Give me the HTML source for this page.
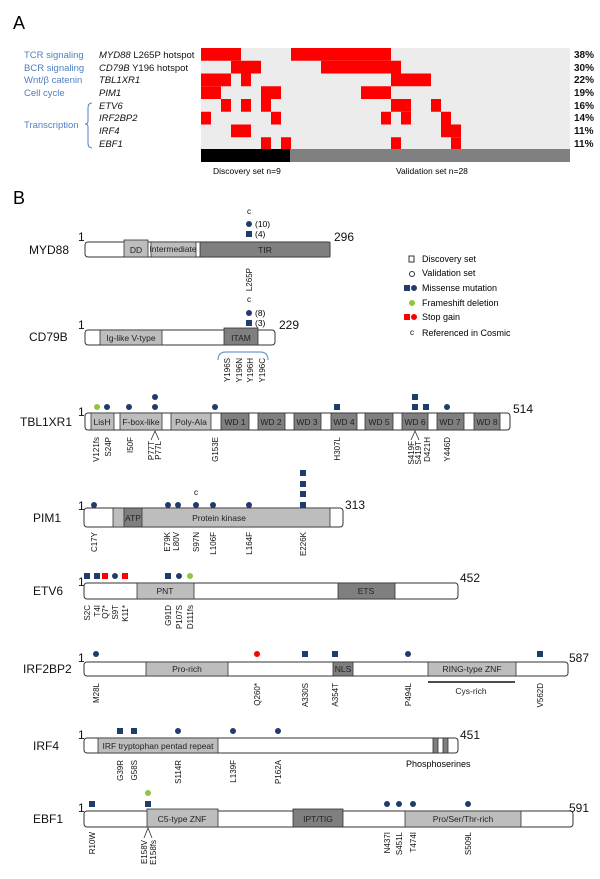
<!DOCTYPE html>
<html><head><meta charset="utf-8"><style>
html,body{margin:0;padding:0;background:#fff}
svg{display:block;font-family:"Liberation Sans",Arial,sans-serif}
.bl{fill:#4f7fc0;font-size:9.5px}
.g{font-size:9.5px;fill:#111}
.pct{font-size:10px;font-weight:bold;fill:#111}
.pn{font-size:12px;fill:#111}
.num{font-size:12px;fill:#111}
.dm{font-size:8.5px;fill:#222;text-anchor:middle}
.rl{font-size:8px;fill:#111;text-anchor:end}
.bar{fill:#fff;stroke:#333;stroke-width:1}
.lg{fill:#bdbdbd;stroke:#333;stroke-width:.8}
.dk{fill:#7f7f7f;stroke:#333;stroke-width:.8}
.nv{fill:#1f3d6b}
</style></head><body>
<svg width="600" height="879" viewBox="0 0 600 879" xmlns="http://www.w3.org/2000/svg">
<text x="13" y="29" font-size="18">A</text>
<text x="24" y="58" class="bl">TCR signaling</text>
<text x="24" y="71" class="bl">BCR signaling</text>
<text x="24" y="83" class="bl">Wnt/β catenin</text>
<text x="24" y="96" class="bl">Cell cycle</text>
<text x="24" y="128" class="bl">Transcription</text>
<path d="M92,103 Q88,103 88,108 L88,121 Q88,124 85,124 Q88,124 88,127 L88,143 Q88,148 92,148" fill="none" stroke="#4f7fc0" stroke-width="1"/>
<text x="99" y="58" class="g"><tspan font-style="italic">MYD88</tspan> L265P hotspot</text>
<text x="99" y="71" class="g"><tspan font-style="italic">CD79B</tspan> Y196 hotspot</text>
<g class="g" font-style="italic">
<text x="99" y="83">TBL1XR1</text><text x="99" y="96">PIM1</text><text x="99" y="109">ETV6</text>
<text x="99" y="121">IRF2BP2</text><text x="99" y="134">IRF4</text><text x="99" y="147">EBF1</text></g>
<rect x="201" y="48" width="369" height="101" fill="#ececec"/>
<g fill="#f00">
<rect x="201" y="48" width="40" height="12.75"/><rect x="291" y="48" width="100" height="12.75"/>
<rect x="231" y="60.75" width="30" height="12.75"/><rect x="321" y="60.75" width="80" height="12.75"/>
<rect x="201" y="73.5" width="30" height="12.75"/><rect x="241" y="73.5" width="10" height="12.75"/><rect x="391" y="73.5" width="40" height="12.75"/>
<rect x="201" y="86.25" width="20" height="12.75"/><rect x="261" y="86.25" width="20" height="12.75"/><rect x="361" y="86.25" width="30" height="12.75"/>
<rect x="221" y="99" width="10" height="12.75"/><rect x="241" y="99" width="10" height="12.75"/><rect x="261" y="99" width="10" height="12.75"/><rect x="391" y="99" width="20" height="12.75"/><rect x="431" y="99" width="10" height="12.75"/>
<rect x="201" y="111.75" width="10" height="12.75"/><rect x="271" y="111.75" width="10" height="12.75"/><rect x="381" y="111.75" width="10" height="12.75"/><rect x="401" y="111.75" width="10" height="12.75"/><rect x="441" y="111.75" width="10" height="12.75"/>
<rect x="231" y="124.5" width="20" height="12.75"/><rect x="441" y="124.5" width="20" height="12.75"/>
<rect x="261" y="137.25" width="10" height="12" /><rect x="281" y="137.25" width="10" height="12"/><rect x="391" y="137.25" width="10" height="12"/><rect x="451" y="137.25" width="10" height="12"/>
</g>
<rect x="201" y="149" width="89" height="13" fill="#000"/>
<rect x="290" y="149" width="280" height="13" fill="#808080"/>
<g class="pct"><text x="574" y="58">38%</text><text x="574" y="71">30%</text><text x="574" y="83">22%</text><text x="574" y="96">19%</text><text x="574" y="109">16%</text><text x="574" y="121">14%</text><text x="574" y="134">11%</text><text x="574" y="147">11%</text></g>
<text x="213" y="174" font-size="8.5">Discovery set n=9</text>
<text x="396" y="174" font-size="8.5">Validation set n=28</text>

<text x="13" y="204" font-size="18">B</text>
<!-- MYD88 -->
<text x="29" y="254" class="pn">MYD88</text>
<text x="78" y="241" class="num">1</text><text x="334" y="241" class="num">296</text>
<rect x="85" y="242" width="245" height="15" rx="3" class="bar"/>
<rect x="124" y="240" width="24" height="17" class="lg"/><rect x="151" y="242" width="45" height="15" class="lg"/><rect x="200" y="242" width="130" height="15" class="dk"/>
<text x="136" y="253" class="dm">DD</text><text x="173" y="252" class="dm" font-size="7">Intermediate</text><text x="265" y="253" class="dm">TIR</text>
<text x="249" y="214" font-size="8" text-anchor="middle">c</text>
<circle cx="249" cy="224" r="3" class="nv"/><rect x="246" y="231" width="6" height="6" class="nv"/>
<text x="255" y="227" font-size="8.5">(10)</text><text x="255" y="237" font-size="8.5">(4)</text>
<text transform="translate(249,268) rotate(-90)" dy="3" class="rl">L265P</text>
<!-- legend -->
<rect x="409" y="256" width="5" height="6" fill="#fff" stroke="#333"/><text x="422" y="262" font-size="9">Discovery set</text>
<circle cx="412" cy="274" r="2.5" fill="#fff" stroke="#333"/><text x="422" y="276" font-size="9">Validation set</text>
<rect x="404" y="285" width="6" height="6" class="nv"/><circle cx="414" cy="288" r="3" class="nv"/><text x="422" y="291" font-size="9">Missense mutation</text>
<circle cx="412" cy="303" r="3" fill="#8dc63f"/><text x="422" y="306" font-size="9">Frameshift deletion</text>
<rect x="404" y="314" width="6" height="6" fill="#f00"/><circle cx="414" cy="317" r="3" fill="#f00"/><text x="422" y="320" font-size="9">Stop gain</text>
<text x="412" y="335" font-size="8" text-anchor="middle">c</text><text x="422" y="336" font-size="9">Referenced in Cosmic</text>
<!-- CD79B -->
<text x="29" y="341" class="pn">CD79B</text>
<text x="78" y="329" class="num">1</text><text x="279" y="329" class="num">229</text>
<rect x="85" y="330" width="190" height="15" rx="3" class="bar"/>
<rect x="100" y="330" width="62" height="15" class="lg"/><rect x="224" y="328" width="34" height="17" class="dk"/>
<text x="131" y="341" class="dm">Ig-like V-type</text><text x="241" y="341" class="dm">ITAM</text>
<text x="249" y="302" font-size="8" text-anchor="middle">c</text>
<circle cx="249" cy="313" r="3" class="nv"/><rect x="246" y="320" width="6" height="6" class="nv"/>
<text x="255" y="316" font-size="8.5">(8)</text><text x="255" y="326" font-size="8.5">(3)</text>
<path d="M218,360 Q218,352 226,352 L260,352 Q268,352 268,360" fill="none" stroke="#6f9ad0" stroke-width="1.2"/>
<text transform="translate(227,358) rotate(-90)" dy="3" class="rl">Y196S</text>
<text transform="translate(239,358) rotate(-90)" dy="3" class="rl">Y196N</text>
<text transform="translate(250,358) rotate(-90)" dy="3" class="rl">Y196H</text>
<text transform="translate(262,358) rotate(-90)" dy="3" class="rl">Y196C</text>
<!-- TBL1XR1 -->
<text x="20" y="426" class="pn">TBL1XR1</text>
<text x="78" y="416" class="num">1</text><text x="513" y="413" class="num">514</text>
<rect x="85" y="413" width="425" height="17" rx="3" class="bar"/>
<rect x="91" y="413" width="23" height="17" class="lg"/><rect x="120" y="413" width="42" height="17" class="lg"/><rect x="171" y="413" width="40" height="17" class="lg"/>
<g class="dk"><rect x="221" y="413" width="28" height="17"/><rect x="258" y="413" width="27" height="17"/><rect x="294" y="413" width="27" height="17"/><rect x="331" y="413" width="26" height="17"/><rect x="365" y="413" width="28" height="17"/><rect x="402" y="413" width="26" height="17"/><rect x="437" y="413" width="27" height="17"/><rect x="474" y="413" width="26" height="17"/></g>
<g class="dm"><text x="102" y="425">LisH</text><text x="141" y="425">F-box-like</text><text x="191" y="425">Poly-Ala</text>
<text x="235" y="425">WD 1</text><text x="271" y="425">WD 2</text><text x="307" y="425">WD 3</text><text x="344" y="425">WD 4</text><text x="379" y="425">WD 5</text><text x="415" y="425">WD 6</text><text x="450" y="425">WD 7</text><text x="487" y="425">WD 8</text></g>
<circle cx="97" cy="407" r="3" fill="#8dc63f"/>
<g class="nv"><circle cx="107" cy="407" r="3"/><circle cx="129" cy="407" r="3"/><circle cx="155" cy="407" r="3"/><circle cx="155" cy="397" r="3"/><circle cx="215" cy="407" r="3"/>
<rect x="334" y="404" width="6" height="6"/><rect x="412" y="404" width="6" height="6"/><rect x="412" y="394" width="6" height="6"/><rect x="423" y="404" width="6" height="6"/><circle cx="447" cy="407" r="3"/></g>
<path d="M151,440 L155,431 L159,440 M411,440 L415,431 L419,440" fill="none" stroke="#333" stroke-width=".8"/>
<text transform="translate(96,437) rotate(-90)" dy="3" class="rl">V121fs</text>
<text transform="translate(108,437) rotate(-90)" dy="3" class="rl">S24P</text>
<text transform="translate(130,437) rotate(-90)" dy="3" class="rl">I50F</text>
<text transform="translate(151,441) rotate(-90)" dy="3" class="rl">P77T</text>
<text transform="translate(158,441) rotate(-90)" dy="3" class="rl">P77L</text>
<text transform="translate(215,437) rotate(-90)" dy="3" class="rl">G153E</text>
<text transform="translate(337,437) rotate(-90)" dy="3" class="rl">H307L</text>
<text transform="translate(411,441) rotate(-90)" dy="3" class="rl">S419F</text>
<text transform="translate(418,441) rotate(-90)" dy="3" class="rl">S419T</text>
<text transform="translate(427,437) rotate(-90)" dy="3" class="rl">D421H</text>
<text transform="translate(447,437) rotate(-90)" dy="3" class="rl">Y446D</text>
<!-- PIM1 -->
<text x="33" y="522" class="pn">PIM1</text>
<text x="78" y="510" class="num">1</text><text x="345" y="509" class="num">313</text>
<rect x="84" y="508" width="259" height="19" rx="3" class="bar"/>
<rect x="113" y="508" width="217" height="19" class="lg"/><rect x="124" y="508" width="18" height="19" class="dk"/>
<text x="133" y="521" class="dm">ATP</text><text x="219" y="521" class="dm">Protein kinase</text>
<text x="196" y="495" font-size="8" text-anchor="middle">c</text>
<g class="nv"><circle cx="94" cy="505" r="3"/><circle cx="168" cy="505" r="3"/><circle cx="178" cy="505" r="3"/><circle cx="196" cy="505" r="3"/><circle cx="213" cy="505" r="3"/><circle cx="249" cy="505" r="3"/>
<rect x="300" y="502" width="6" height="6"/><rect x="300" y="491" width="6" height="6"/><rect x="300" y="481" width="6" height="6"/><rect x="300" y="470" width="6" height="6"/></g>
<text transform="translate(94,532) rotate(-90)" dy="3" class="rl">C17Y</text>
<text transform="translate(167,532) rotate(-90)" dy="3" class="rl">E79K</text>
<text transform="translate(176,532) rotate(-90)" dy="3" class="rl">L80V</text>
<text transform="translate(196,532) rotate(-90)" dy="3" class="rl">S97N</text>
<text transform="translate(213,532) rotate(-90)" dy="3" class="rl">L106F</text>
<text transform="translate(249,532) rotate(-90)" dy="3" class="rl">L164F</text>
<text transform="translate(303,532) rotate(-90)" dy="3" class="rl">E226K</text>
<!-- ETV6 -->
<text x="33" y="595" class="pn">ETV6</text>
<text x="78" y="586" class="num">1</text><text x="460" y="582" class="num">452</text>
<rect x="84" y="583" width="374" height="16" rx="3" class="bar"/>
<rect x="137" y="583" width="57" height="16" class="lg"/><rect x="338" y="583" width="57" height="16" class="dk"/>
<text x="165" y="594" class="dm">PNT</text><text x="366" y="594" class="dm">ETS</text>
<g class="nv"><rect x="84" y="573" width="6" height="6"/><rect x="94" y="573" width="6" height="6"/><circle cx="115" cy="576" r="3"/><rect x="165" y="573" width="6" height="6"/><circle cx="179" cy="576" r="3"/></g>
<rect x="102" y="573" width="6" height="6" fill="#f00"/><rect x="122" y="573" width="6" height="6" fill="#f00"/>
<circle cx="190" cy="576" r="3" fill="#8dc63f"/>
<text transform="translate(87,605) rotate(-90)" dy="3" class="rl">S2C</text>
<text transform="translate(97,605) rotate(-90)" dy="3" class="rl">T4I</text>
<text transform="translate(105,605) rotate(-90)" dy="3" class="rl">Q7*</text>
<text transform="translate(115,605) rotate(-90)" dy="3" class="rl">S9T</text>
<text transform="translate(125,605) rotate(-90)" dy="3" class="rl">K11*</text>
<text transform="translate(168,605) rotate(-90)" dy="3" class="rl">G91D</text>
<text transform="translate(179,605) rotate(-90)" dy="3" class="rl">P107S</text>
<text transform="translate(190,605) rotate(-90)" dy="3" class="rl">D111fs</text>
<!-- IRF2BP2 -->
<text x="23" y="673" class="pn">IRF2BP2</text>
<text x="78" y="662" class="num">1</text><text x="569" y="662" class="num">587</text>
<rect x="84" y="662" width="484" height="14" rx="3" class="bar"/>
<rect x="146" y="662" width="82" height="14" class="lg"/><rect x="333" y="662" width="20" height="14" class="dk"/><rect x="428" y="662" width="88" height="14" class="lg"/>
<text x="187" y="672" class="dm">Pro-rich</text><text x="343" y="672" class="dm">NLS</text><text x="472" y="672" class="dm">RING-type ZNF</text>
<line x1="428" y1="682" x2="515" y2="682" stroke="#111" stroke-width="1.5"/>
<text x="471" y="694" class="dm" font-size="9">Cys-rich</text>
<g class="nv"><circle cx="96" cy="654" r="3"/><rect x="302" y="651" width="6" height="6"/><rect x="332" y="651" width="6" height="6"/><circle cx="408" cy="654" r="3"/><rect x="537" y="651" width="6" height="6"/></g>
<circle cx="257" cy="654" r="3" fill="#f00"/>
<text transform="translate(96,683) rotate(-90)" dy="3" class="rl">M28L</text>
<text transform="translate(257,683) rotate(-90)" dy="3" class="rl">Q260*</text>
<text transform="translate(305,683) rotate(-90)" dy="3" class="rl">A330S</text>
<text transform="translate(335,683) rotate(-90)" dy="3" class="rl">A354T</text>
<text transform="translate(408,683) rotate(-90)" dy="3" class="rl">P494L</text>
<text transform="translate(540,683) rotate(-90)" dy="3" class="rl">V562D</text>
<!-- IRF4 -->
<text x="33" y="750" class="pn">IRF4</text>
<text x="78" y="739" class="num">1</text><text x="460" y="739" class="num">451</text>
<rect x="84" y="738" width="374" height="15" rx="3" class="bar"/>
<rect x="98" y="738" width="120" height="15" class="lg"/>
<rect x="433" y="738" width="5" height="15" class="dk"/><rect x="443" y="738" width="5" height="15" class="dk"/>
<text x="158" y="749" class="dm" style="text-anchor:middle">IRF tryptophan pentad repeat</text>
<text x="406" y="767" font-size="9">Phosphoserines</text>
<g class="nv"><rect x="117" y="728" width="6" height="6"/><rect x="131" y="728" width="6" height="6"/><circle cx="178" cy="731" r="3"/><circle cx="233" cy="731" r="3"/><circle cx="278" cy="731" r="3"/></g>
<text transform="translate(120,760) rotate(-90)" dy="3" class="rl">G39R</text>
<text transform="translate(134,760) rotate(-90)" dy="3" class="rl">G58S</text>
<text transform="translate(178,760) rotate(-90)" dy="3" class="rl">S114R</text>
<text transform="translate(233,760) rotate(-90)" dy="3" class="rl">L139F</text>
<text transform="translate(278,760) rotate(-90)" dy="3" class="rl">P162A</text>
<!-- EBF1 -->
<text x="33" y="823" class="pn">EBF1</text>
<text x="78" y="812" class="num">1</text><text x="569" y="812" class="num">591</text>
<rect x="84" y="811" width="489" height="16" rx="3" class="bar"/>
<rect x="147" y="809" width="71" height="18" class="lg"/><rect x="293" y="809" width="50" height="18" class="dk"/><rect x="405" y="811" width="116" height="16" class="lg"/>
<text x="182" y="822" class="dm">C5-type ZNF</text><text x="318" y="822" class="dm">IPT/TIG</text><text x="463" y="822" class="dm">Pro/Ser/Thr-rich</text>
<circle cx="148" cy="793" r="3" fill="#8dc63f"/>
<g class="nv"><rect x="89" y="801" width="6" height="6"/><rect x="145" y="801" width="6" height="6"/><circle cx="387" cy="804" r="3"/><circle cx="399" cy="804" r="3"/><circle cx="413" cy="804" r="3"/><circle cx="468" cy="804" r="3"/></g>
<path d="M144,838 L148,828 L152,838" fill="none" stroke="#333" stroke-width=".8"/>
<text transform="translate(92,832) rotate(-90)" dy="3" class="rl">R10W</text>
<text transform="translate(144,840) rotate(-90)" dy="3" class="rl">E158V</text>
<text transform="translate(153,840) rotate(-90)" dy="3" class="rl">E158fs</text>
<text transform="translate(387,832) rotate(-90)" dy="3" class="rl">N437I</text>
<text transform="translate(399,832) rotate(-90)" dy="3" class="rl">S451L</text>
<text transform="translate(413,832) rotate(-90)" dy="3" class="rl">T474I</text>
<text transform="translate(468,832) rotate(-90)" dy="3" class="rl">S509L</text>
</svg>
</body></html>
